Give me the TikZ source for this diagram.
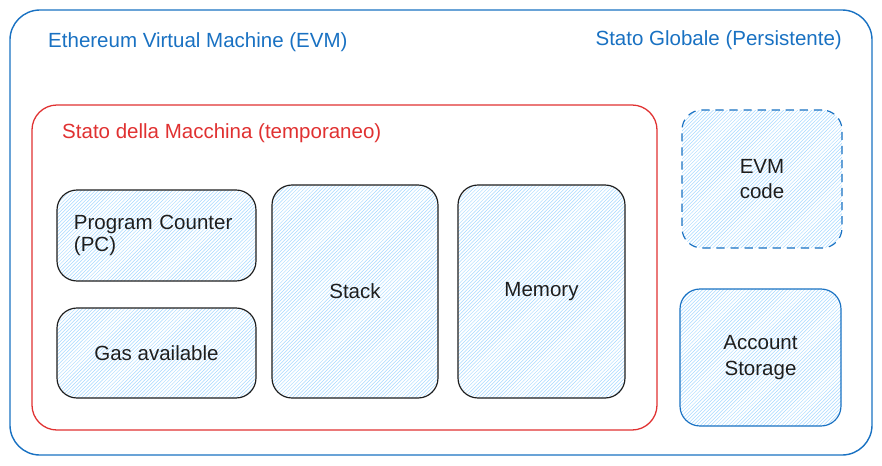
\documentclass[tikz,border=0pt]{standalone}
\usepackage{fontspec}
\setmainfont{Liberation Sans}
\usepackage{tikz}
\usetikzlibrary{positioning,patterns}
\definecolor{evmblue}{HTML}{1971C2}
\definecolor{evmred}{HTML}{E03131}
\definecolor{hatch}{HTML}{A5D8FF}
\definecolor{ink}{HTML}{1E1E1E}
\tikzset{
 outer/.style
  = {rectangle, draw=evmblue, rounded corners=0.9cm, line width=1.2pt},
 state/.style
  = {rectangle, draw=evmred, rounded corners=0.75cm, line width=1.1pt},
 part/.style
  = {rectangle, draw=ink, rounded corners=0.6cm, line width=1pt,
     pattern=north east lines, pattern color=hatch, text=ink,
     text centered, font=\fontsize{17.5}{21.5}\selectfont},
 bpart/.style
  = {part, draw=evmblue},
 dpart/.style
  = {bpart, dashed, dash pattern=on 7pt off 5pt},
 title/.style
  = {inner sep=0pt, font=\fontsize{17.5}{21}\selectfont},
}

\begin{document}
\begin{tikzpicture}[x=0.03cm, y=-0.03cm]
    \useasboundingbox (0,0) rectangle (882,465);
    \node [outer, minimum width=25.86cm, minimum height=13.35cm] (evm) at (441,232.5) {};
    \node [title, text=evmblue, anchor=west] (evmtitle) at (48,42) {Ethereum Virtual Machine (EVM)};
    \node [title, text=evmblue, anchor=east] (global) at (842,40) {Stato Globale (Persistente)};

    \node [state, minimum width=18.75cm, minimum height=9.75cm] (machine) at (344.5,267.5) {};
    \node [title, text=evmred, anchor=west] (machinetitle) at (62,133) {Stato della Macchina (temporaneo)};

    \node [part, minimum width=5.97cm, minimum height=2.73cm, text width=4.95cm, align=left,
           font=\fontsize{17.5}{19}\selectfont] (pc) at (156.5,235.5) {Program Counter\\ (PC)};
    \node [part, minimum width=5.97cm, minimum height=2.7cm] (gas) at (156.5,353) {Gas available};
    \node [part, minimum width=4.98cm, minimum height=6.39cm] (stack) at (355,291.5) {Stack};
    \node [part, minimum width=5.01cm, minimum height=6.39cm] (memory) at (541.5,291.5) {Memory};

    \node [dpart, minimum width=4.8cm, minimum height=4.14cm, align=center] (code) at (762,179) {EVM\\ code};
    \node [bpart, minimum width=4.83cm, minimum height=4.11cm, align=center] (storage) at (760.5,357.5) {Account\\ Storage};
\end{tikzpicture}
\end{document}
